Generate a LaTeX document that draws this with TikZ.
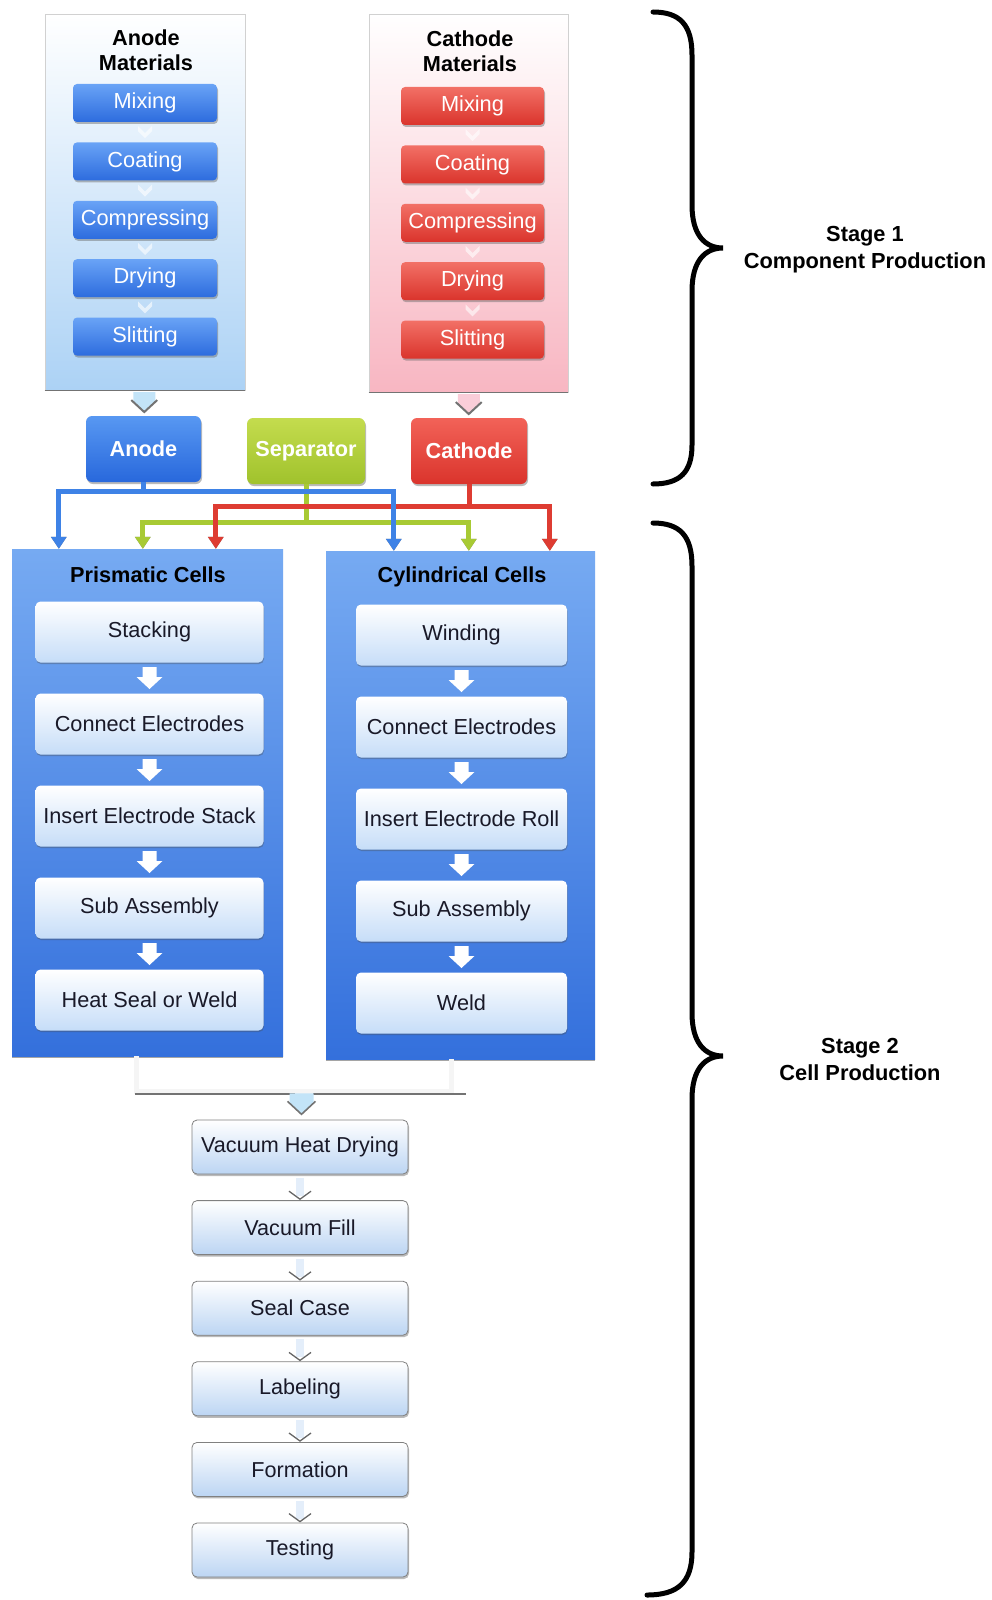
\documentclass[tikz,border=0pt]{standalone}
\usepackage{fontspec}
\setmainfont{Liberation Sans}
\usetikzlibrary{arrows.meta,shadows,calc}
\definecolor{matblueT}{RGB}{105,163,246}
\definecolor{matblueB}{RGB}{45,108,222}
\definecolor{matredT}{RGB}{242,112,102}
\definecolor{matredB}{RGB}{218,52,44}
\definecolor{anodeT}{RGB}{88,152,242}
\definecolor{anodeB}{RGB}{40,104,220}
\definecolor{cathT}{RGB}{242,98,88}
\definecolor{cathB}{RGB}{218,52,44}
\definecolor{sepT}{RGB}{196,220,78}
\definecolor{sepB}{RGB}{160,194,44}
\definecolor{apanelB}{RGB}{172,210,245}
\definecolor{cpanelB}{RGB}{248,182,194}
\definecolor{cellT}{RGB}{118,170,242}
\definecolor{cellB}{RGB}{52,112,220}
\definecolor{innerB}{RGB}{198,221,248}
\definecolor{chainB}{RGB}{188,213,243}
\definecolor{lblue}{RGB}{62,130,230}
\definecolor{lred}{RGB}{222,60,50}
\definecolor{lgreen}{RGB}{168,202,52}
\definecolor{textdark}{RGB}{25,25,40}
\definecolor{achev}{RGB}{195,228,248}
\definecolor{cchev}{RGB}{250,205,216}
\begin{document}
\begin{tikzpicture}[x=1pt,y=-1pt]
\tikzset{
  panel/.style={draw=black!18, line width=0.6pt, inner sep=0pt},
  title/.style={font=\bfseries\fontsize{21.7}{25}\selectfont, align=center, text=black},
  matbox/.style={rounded corners=4pt, minimum width=144pt, minimum height=38pt, inner sep=0pt,
    text=white, font=\fontsize{21.8}{25}\selectfont,
    drop shadow={shadow xshift=1pt, shadow yshift=-2pt, opacity=0.45, fill=black!60}},
  bluemat/.style={matbox, top color=matblueT, bottom color=matblueB},
  redmat/.style={matbox, top color=matredT, bottom color=matredB},
  compbox/.style={rounded corners=6pt, minimum height=66pt, inner sep=0pt, text=white,
    font=\bfseries\fontsize{21.7}{25}\selectfont,
    drop shadow={shadow xshift=1pt, shadow yshift=-2pt, opacity=0.45, fill=black!60}},
  cellbox/.style={inner sep=0pt, top color=cellT, bottom color=cellB,
    drop shadow={shadow xshift=0pt, shadow yshift=-2pt, opacity=0.5, fill=black!70}},
  innerbox/.style={rounded corners=5pt, minimum height=61pt, inner sep=0pt, text=textdark,
    font=\fontsize{21.7}{25}\selectfont, top color=white, bottom color=innerB,
    drop shadow={shadow xshift=0.5pt, shadow yshift=-1.5pt, opacity=0.35, fill=black!70}},
  chainbox/.style={rounded corners=5pt, minimum width=216pt, minimum height=54pt, inner sep=0pt,
    draw=black!50, line width=0.8pt, text=textdark, font=\fontsize{21.6}{25}\selectfont,
    top color=white, bottom color=chainB,
    drop shadow={shadow xshift=1pt, shadow yshift=-2pt, opacity=0.45, fill=black!60}},
  conn/.style={line width=5pt, -{Triangle[width=15pt,length=12pt]}},
  connshadow/.style={conn, draw=black!50},
  jline/.style={draw=black!4, line width=5pt},
  jshadow/.style={draw=black!55, line width=1.8pt},
  stagetext/.style={font=\bfseries\fontsize{21.8}{27}\selectfont, align=center, text=black},
  bracestyle/.style={line width=5pt, line cap=round, black},
  chevA/.pic={\fill[white, opacity=0.6] (-7,-6) -- (0,1) -- (7,-6) -- (7,-1) -- (0,6) -- (-7,-1) -- cycle;},
  panelchevA/.pic={\fill[achev] (-11,-11) -- (11,-11) -- (11,-2) -- (0,8) -- (-11,-2) -- cycle;
     \draw[black!55, line width=2pt] (-13,-3) -- (0,9) -- (13,-3);},
  panelchevC/.pic={\fill[cchev] (-11,-11) -- (11,-11) -- (11,-2) -- (0,8) -- (-11,-2) -- cycle;
     \draw[black!55, line width=2pt] (-13,-3) -- (0,9) -- (13,-3);},
  wharrow/.pic={\fill[white] (-7,-11) -- (7,-11) -- (7,-1) -- (13,-1) -- (0,11) -- (-13,-1) -- (-7,-1) -- cycle;},
  chainchev/.pic={\fill[chainB!40] (-4,-22) rectangle (4,-4);
     \draw[black!60, line width=1.3pt] (-11,-9) -- (0,-1) -- (11,-9);},
  topchev/.pic={\fill[achev] (-12,-12) -- (12,-12) -- (12,-2) -- (0,9) -- (-12,-2) -- cycle;
     \draw[black!55, line width=1.6pt] (-14,-4) -- (0,9) -- (14,-4);}
}
\useasboundingbox (0,0) rectangle (992,1600);
\fill[white] (0,0) rectangle (992,1600);

% ---------- material panels ----------
\node[panel, top color=white, middle color=apanelB!55, bottom color=apanelB,
      minimum width=200pt, minimum height=376pt] (apanel) at (145,202) {};
\draw[black!55, line width=1.6pt] (apanel.south west) -- (apanel.south east);
\node[panel, top color=white, middle color=cpanelB!55, bottom color=cpanelB,
      minimum width=199pt, minimum height=378pt] (cpanel) at (468.5,203) {};
\draw[black!55, line width=1.6pt] (cpanel.south west) -- (cpanel.south east);

\node[title] (atitle) at (146,50) {Anode\\Materials};
\node[title] (ctitle) at (470,51) {Cathode\\Materials};

\foreach \t [count=\i] in {Mixing,Coating,Compressing,Drying,Slitting}
  \node[bluemat] (a\i) at (145,{103+58.4*(\i-1)}) {\t};
\foreach \t [count=\i] in {Mixing,Coating,Compressing,Drying,Slitting}
  \node[redmat, minimum width=143pt] (c\i) at (472.5,{106+58.4*(\i-1)}) {\t};
\foreach \i/\j in {1/2,2/3,3/4,4/5}{
  \path (a\i.south) -- coordinate[midway] (ac\i) (a\j.north);
  \pic at (ac\i) {chevA};
  \path (c\i.south) -- coordinate[midway] (cc\i) (c\j.north);
  \pic at (cc\i) {chevA};
}

% ---------- components ----------
\node[compbox, minimum width=115pt, top color=anodeT, bottom color=anodeB] (anode) at (143.5,449) {Anode};
\node[compbox, minimum width=118pt, top color=sepT, bottom color=sepB] (sep) at (306,451) {Separator};
\node[compbox, minimum width=116pt, top color=cathT, bottom color=cathB] (cathode) at (469,451) {Cathode};

\path (apanel.south) -- coordinate[midway] (apc) (anode.north);
\pic at (apc) {panelchevA};
\path (cpanel.south) -- coordinate[midway] (cpc) (cathode.north);
\pic at (cpc) {panelchevC};

% ---------- cell boxes ----------
\node[cellbox, minimum width=271pt, minimum height=507pt] (prism) at (147.5,802.5) {};
\node[cellbox, minimum width=269pt, minimum height=508pt] (cyl) at (460.5,805) {};
\node[title] (ptitle) at (148,575) {Prismatic Cells};
\node[title] (cytitle) at (462,577) {Cylindrical Cells};

\foreach \t [count=\i] in {Stacking,Connect Electrodes,Insert Electrode Stack,Sub Assembly,Heat Seal or Weld}
  \node[innerbox, minimum width=228pt] (p\i) at (149.5,{632+92*(\i-1)}) {\t};
\foreach \t [count=\i] in {Winding,Connect Electrodes,Insert Electrode Roll,Sub Assembly,Weld}
  \node[innerbox, minimum width=211pt] (y\i) at (461.5,{635+92*(\i-1)}) {\t};
\foreach \i/\j in {1/2,2/3,3/4,4/5}{
  \path (p\i.south) -- coordinate[midway] (pa\i) (p\j.north);
  \pic at (pa\i) {wharrow};
  \path (y\i.south) -- coordinate[midway] (ya\i) (y\j.north);
  \pic at (ya\i) {wharrow};
}

% ---------- colored connectors ----------
\coordinate (pBt) at ([xshift=47pt]prism.north west);
\coordinate (pGt) at ([xshift=131pt]prism.north west);
\coordinate (pRt) at ([xshift=204pt]prism.north west);
\coordinate (cBt) at ([xshift=68pt]cyl.north west);
\coordinate (cGt) at ([xshift=143pt]cyl.north west);
\coordinate (cRt) at ([xshift=224pt]cyl.north west);

\begin{scope}[shift={(1,3)}]
\draw[connshadow] (sep.south) -- ++(0,38) -| (pGt);
\draw[connshadow] (sep.south) -- ++(0,38) -| (cGt);
\end{scope}
\draw[conn, lgreen] (sep.south) -- ++(0,38) -| (pGt);
\draw[conn, lgreen] (sep.south) -- ++(0,38) -| (cGt);
\begin{scope}[shift={(1,3)}]
\draw[connshadow] (cathode.south) -- ++(0,22) -| (pRt);
\draw[connshadow] (cathode.south) -- ++(0,22) -| (cRt);
\end{scope}
\draw[conn, lred] (cathode.south) -- ++(0,22) -| (pRt);
\draw[conn, lred] (cathode.south) -- ++(0,22) -| (cRt);
\begin{scope}[shift={(1,3)}]
\draw[connshadow] (anode.south) -- ++(0,9) -| (pBt);
\draw[connshadow] (anode.south) -- ++(0,9) -| (cBt);
\end{scope}
\draw[conn, lblue] (anode.south) -- ++(0,9) -| (pBt);
\draw[conn, lblue] (anode.south) -- ++(0,9) -| (cBt);

% ---------- join to final chain ----------
\coordinate (pbL) at ([xshift=125pt]prism.south west);
\coordinate (cbR) at ([xshift=126pt]cyl.south west);
\coordinate (jm) at (303,1091);
\draw[jline] (pbL) |- (jm) -| (cbR);
\draw[jshadow] ($(pbL |- jm)+(-2,3)$) -- ($(jm)+(-8,3)$);
\draw[jshadow] ($(jm)+(10,3)$) -- ($(cbR |- jm)+(14,3)$);

\foreach \t [count=\i] in {Vacuum Heat Drying,Vacuum Fill,Seal Case,Labeling,Formation,Testing}
  \node[chainbox] (v\i) at (300,{1147+80.6*(\i-1)}) {\t};
\path (jm) -- coordinate[midway] (jc) (v1.north);
\pic at (jc) {topchev};
\foreach \i/\j in {1/2,2/3,3/4,4/5,5/6}{
  \pic at (v\j.north) {chainchev};
}

% ---------- braces ----------
\draw[bracestyle] (653,12) .. controls (680,12) and (692,25) .. (692,55) -- (692,205)
   .. controls (692,235) and (705,248) .. (723,248)
   .. controls (705,248) and (692,261) .. (692,291) -- (692,445)
   .. controls (692,472) and (680,484) .. (653,484);
\draw[bracestyle] (653,523) .. controls (680,523) and (692,536) .. (692,566) -- (692,1013)
   .. controls (692,1043) and (705,1056) .. (723,1056)
   .. controls (705,1056) and (692,1069) .. (692,1099) -- (692,1552)
   .. controls (692,1582) and (678,1595) .. (647,1595);

\node[stagetext] (s1) at (865,250) {Stage 1\\Component Production};
\node[stagetext] (s2) at (860,1059) {Stage 2\\Cell Production};
\end{tikzpicture}
\end{document}
